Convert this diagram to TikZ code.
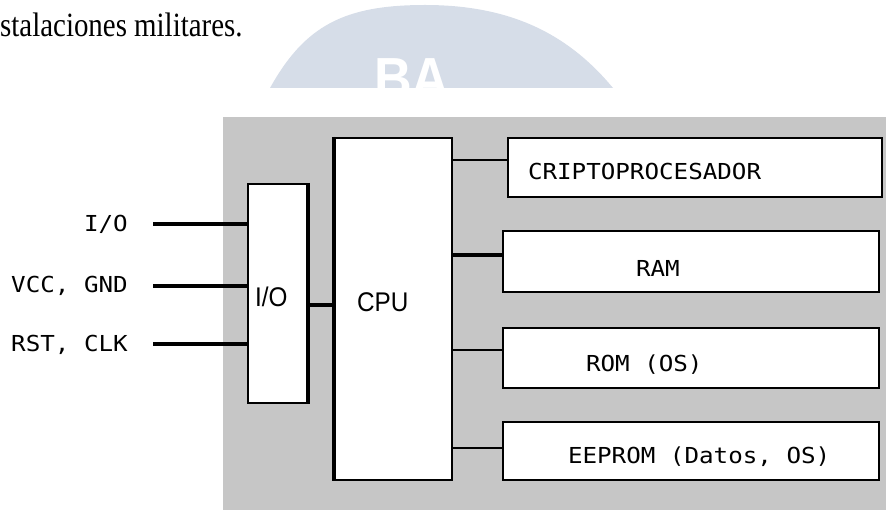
\documentclass[tikz,border=0pt]{standalone}
\usepackage{fontspec}
\setmainfont{Liberation Serif}
\newfontfamily\introfont[FakeStretch=0.85]{Liberation Serif}
\newfontfamily\cpufont[FakeStretch=0.9]{Liberation Sans}
\newfontfamily\chipfont[FakeStretch=1.1]{DejaVu Sans Mono}
\usetikzlibrary{positioning,calc}
\usepackage{xcolor}
\definecolor{cardgray}{RGB}{198,198,198}
\definecolor{markblue}{RGB}{214,221,232}

\begin{document}
\begin{tikzpicture}[x=1pt, y=-1pt,
  box/.style={draw=black, fill=white, line width=2.4pt, inner sep=0pt},
  lbl/.style={font=\chipfont\fontsize{22}{25}\selectfont, inner sep=0pt},
  big/.style={font=\cpufont\fontsize{27}{30}\selectfont, inner sep=0pt},
  bus/.style={draw=black, line width=2pt},
  pin/.style={draw=black, line width=3.2pt}
]
\useasboundingbox (0,0) rectangle (886,510);

% faded watermark behind the page
\fill[markblue] (270,88) .. controls (305,25) and (345,5) .. (425,5)
  .. controls (505,5) and (565,30) .. (613,88) -- cycle;
\begin{scope}
  \clip (270,88) .. controls (305,25) and (345,5) .. (425,5)
    .. controls (505,5) and (565,30) .. (613,88) -- cycle;
  \node[white, anchor=north west, inner sep=0pt,
    font=\cpufont\bfseries\fontsize{58}{58}\selectfont] (mark) at (374,58) {BA};
\end{scope}

\node[anchor=base west, inner sep=0pt, font=\introfont\fontsize{34}{36}\selectfont]
  (intro) at (0,37) {stalaciones militares.};

% card background
\fill[cardgray] (223,117) rectangle (886,510);

% blocks
\node[box, minimum width=59, minimum height=219] (io) at (277.5,293.5) {};
\node[box, minimum width=117, minimum height=342] (cpu) at (393.5,309) {};
\node[box, minimum width=374, minimum height=59] (crypto) at (695,167.5) {};
\node[box, minimum width=376, minimum height=61] (ram) at (691,261.5) {};
\node[box, minimum width=376, minimum height=60] (rom) at (691,358) {};
\node[box, minimum width=376, minimum height=58] (eeprom) at (691,451) {};

% heavier edges
\draw[pin] (io.north east) -- (io.south east);
\draw[pin] (cpu.north west) -- (cpu.south west);

\node[big, anchor=base west] (iotxt) at ($(io.west)+(8,13.5)$) {I/O};
\node[big, anchor=base west] (cputxt) at ($(cpu.west)+(23,3)$) {CPU};
\node[lbl, anchor=base west] (cryptotxt) at ($(crypto.west)+(21,12.5)$) {CRIPTOPROCESADOR};
\node[lbl, anchor=base west] (ramtxt) at ($(ram.west)+(134,15.5)$) {RAM};
\node[lbl, anchor=base west] (romtxt) at ($(rom.west)+(84,13)$) {ROM (OS)};
\node[lbl, anchor=base west] (eepromtxt) at ($(eeprom.west)+(66,12)$) {EEPROM (Datos, OS)};

% outside pins
\node[lbl, anchor=base east] (lblio) at (128,232) {I/O};
\node[lbl, anchor=base east] (lblvcc) at (128,293) {VCC, GND};
\node[lbl, anchor=base east] (lblrst) at (128,352) {RST, CLK};
\coordinate (pinio) at (153,224);
\coordinate (pinvcc) at (153,286);
\coordinate (pinrst) at (153,344);
\draw[pin] (pinio) -- (pinio -| io.west);
\draw[pin] (pinvcc) -- (pinvcc -| io.west);
\draw[pin] (pinrst) -- (pinrst -| io.west);

% internal buses
\coordinate (iotap) at ([yshift=-11.5pt]io.east);
\draw[pin] (iotap) -- (iotap -| cpu.west);
\coordinate (cryptotap) at ([yshift=7.5pt]crypto.west);
\coordinate (ramtap) at ([yshift=6.5pt]ram.west);
\coordinate (romtap) at ([yshift=8pt]rom.west);
\coordinate (eepromtap) at ([yshift=3pt]eeprom.west);
\draw[bus] (cryptotap -| cpu.east) -- (cryptotap);
\draw[pin] (ramtap -| cpu.east) -- (ramtap);
\draw[bus] (romtap -| cpu.east) -- (romtap);
\draw[bus] (eepromtap -| cpu.east) -- (eepromtap);
\end{tikzpicture}
\end{document}
